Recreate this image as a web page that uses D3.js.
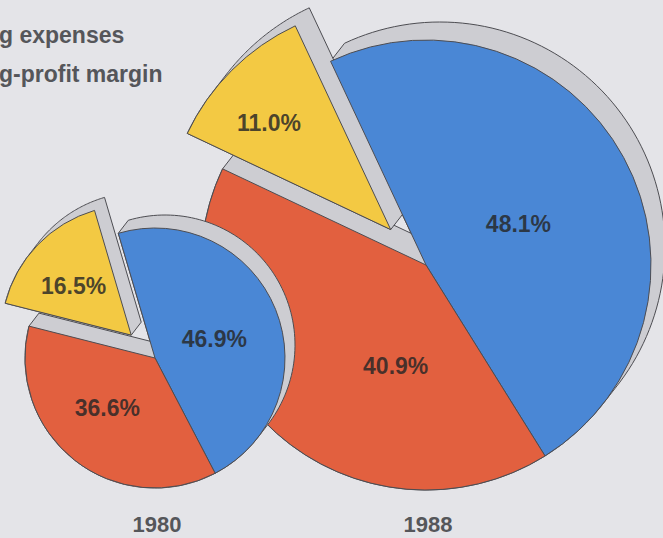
<!DOCTYPE html>
<html>
<head>
<meta charset="utf-8">
<script src="https://cdn.jsdelivr.net/npm/d3@7"></script>
<style>
  body { margin: 0; background: #e4e4e8; }
  svg { display: block; }
</style>
</head>
<body>
<script>
// slice order: blue, red, yellow (yellow is the pulled-out wedge)
var sliceKeys = ["other", "expenses", "margin"];
var years = ["1980", "1988"];
var values1980 = [46.9, 36.6, 16.5];
var values1988 = [48.1, 40.9, 11.0];
var legendLabels = ["g expenses", "g-profit margin"];

var W = 663, H = 538;
var colors = ["#4a87d5", "#e2603f", "#f3c943"];
var sideColor = "#cdcdd2";
var lineColor = "#4d4d52";

var svg = d3.select("body").append("svg")
    .attr("width", W)
    .attr("height", H);

svg.append("rect")
    .attr("width", W).attr("height", H)
    .attr("fill", "#e4e4e8");

// layout of each pie (pixels / degrees), not data
var pies = [
  { year: years[1], values: values1988, cx: 426, cy: 265, r: 225, start: -25.1,
    explode: 50, dx: 14, dy: -18,
    lab: [{k: 0.45, da: 4.5}, {k: 0.47, da: -25}, {k: 0.72, da: -3.8}] },
  { year: years[0], values: values1980, cx: 155, cy: 358, r: 130, start: -16.4,
    explode: 33, dx: 10, dy: -13,
    lab: [{k: 0.48, da: 4}, {k: 0.53, da: 5.5}, {k: 0.58, da: -3.7}] }
];

var fmt = d3.format(".1f");
var rad = Math.PI / 180;

function wedgePoints(a, r, ox, oy) {
  var pts = [[ox, oy]];
  var n = 90;
  for (var k = 0; k <= n; k++) {
    var t = a.startAngle + (a.endAngle - a.startAngle) * k / n;
    pts.push([ox + r * Math.sin(t), oy - r * Math.cos(t)]);
  }
  return pts;
}

pies.forEach(function(p) {
  var pie = d3.pie().sort(null).value(function(d) { return d; })
      .startAngle(p.start * rad)
      .endAngle(p.start * rad + 2 * Math.PI);
  var arcs = pie(p.values);
  var arc = d3.arc().innerRadius(0).outerRadius(p.r);

  arcs.forEach(function(a, i) {
    var m = (a.startAngle + a.endAngle) / 2;
    var e = i === 2 ? p.explode : 0;
    a.ex = e * Math.sin(m);
    a.ey = -e * Math.cos(m);
  });

  var g = svg.append("g")
      .attr("transform", "translate(" + p.cx + "," + p.cy + ")");

  // thickness: hull of the front wedge and its back copy
  g.selectAll("path.side")
    .data(arcs)
    .enter()
    .append("path")
      .attr("class", "side")
      .attr("d", function(a) {
        var pts = wedgePoints(a, p.r, a.ex, a.ey)
          .concat(wedgePoints(a, p.r, a.ex + p.dx, a.ey + p.dy));
        var hull = d3.polygonHull(pts);
        return "M" + hull.join("L") + "Z";
      })
      .attr("fill", sideColor)
      .attr("stroke", lineColor)
      .attr("stroke-width", 1)
      .attr("stroke-linejoin", "round");

  // front faces
  g.selectAll("path.face")
    .data(arcs)
    .enter()
    .append("path")
      .attr("class", "face")
      .attr("transform", function(a) { return "translate(" + a.ex + "," + a.ey + ")"; })
      .attr("d", arc)
      .attr("fill", function(a, i) { return colors[i]; })
      .attr("stroke", lineColor)
      .attr("stroke-width", 1)
      .attr("stroke-linejoin", "round");

  // value labels
  g.selectAll("text.val")
    .data(arcs)
    .enter()
    .append("text")
      .attr("class", "val")
      .attr("x", function(a, i) {
        var m = (a.startAngle + a.endAngle) / 2 + p.lab[i].da * rad;
        return a.ex + p.r * p.lab[i].k * Math.sin(m);
      })
      .attr("y", function(a, i) {
        var m = (a.startAngle + a.endAngle) / 2 + p.lab[i].da * rad;
        return a.ey - p.r * p.lab[i].k * Math.cos(m);
      })
      .attr("text-anchor", "middle")
      .attr("dominant-baseline", "central")
      .attr("font-family", "Liberation Sans, Arial, sans-serif")
      .attr("font-weight", "bold")
      .attr("font-size", 23)
      .attr("fill", "#262626")
      .attr("fill-opacity", 0.82)
      .text(function(a) { return fmt(a.data) + "%"; });

  // year under each pie
  svg.append("text")
      .attr("x", p.cx + 2)
      .attr("y", 532)
      .attr("text-anchor", "middle")
      .attr("font-family", "Liberation Sans, Arial, sans-serif")
      .attr("font-weight", "bold")
      .attr("font-size", 22)
      .attr("fill", "#55565a")
      .text(p.year);
});

// legend text (cut at the left edge like the source)
svg.selectAll("text.legend")
  .data(legendLabels)
  .enter()
  .append("text")
    .attr("class", "legend")
    .attr("x", -1)
    .attr("y", function(d, i) { return 43 + i * 39; })
    .attr("font-family", "Liberation Sans, Arial, sans-serif")
    .attr("font-weight", "bold")
    .attr("font-size", 23)
    .attr("fill", "#55565a")
    .text(function(d) { return d; });
</script>
</body>
</html>
